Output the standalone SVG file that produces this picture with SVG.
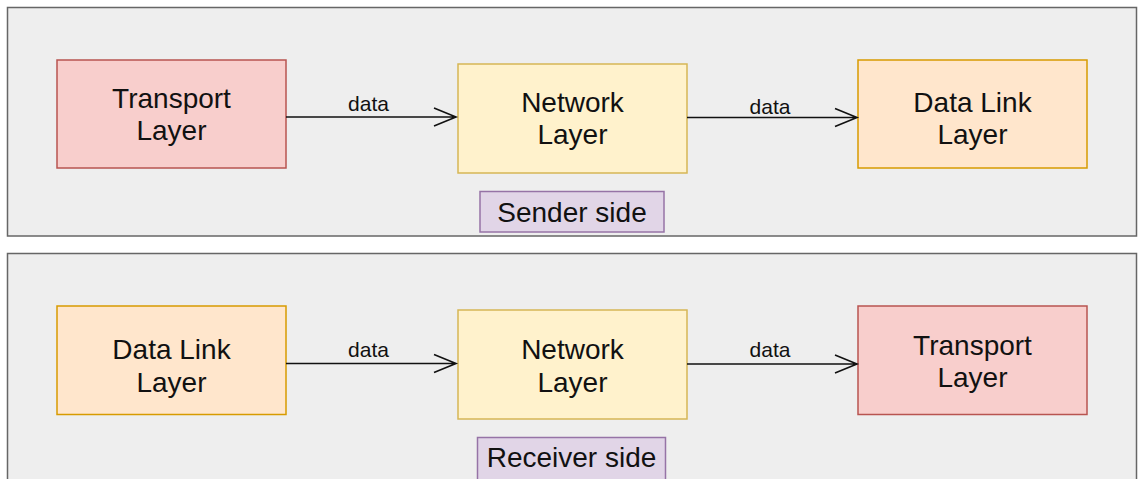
<svg xmlns="http://www.w3.org/2000/svg" width="1139" height="479" viewBox="0 0 1139 479">
<style>
.cont{fill:#eeeeee;stroke:#666666;stroke-width:1.5}
.tr{fill:#f8cecc;stroke:#b85450;stroke-width:1.5}
.nw{fill:#fff2cc;stroke:#d6b656;stroke-width:1.5}
.dl{fill:#ffe6cc;stroke:#d79b00;stroke-width:1.5}
.lb{fill:#e1d5e7;stroke:#9673a6;stroke-width:1.5}
.t{font-family:"Liberation Sans",Arial,sans-serif;font-size:28px;fill:#111111;text-anchor:middle}
.e{font-family:"Liberation Sans",Arial,sans-serif;font-size:21px;fill:#111111;text-anchor:middle}
.c{stroke:#111111;stroke-width:1.6;fill:none}
</style>
<g id="sender-container"><rect class="cont" x="7.5" y="7.5" width="1129" height="228.5"/></g>
<g id="receiver-container"><rect class="cont" x="7.5" y="253.5" width="1129" height="240"/></g>
<g id="s-transport"><rect class="tr" x="57" y="60" width="229" height="108"/><text class="t" x="171.5" y="108">Transport</text><text class="t" x="171.5" y="140">Layer</text></g>
<g id="s-network"><rect class="nw" x="458" y="64" width="229" height="109"/><text class="t" x="572.5" y="112">Network</text><text class="t" x="572.5" y="144">Layer</text></g>
<g id="s-datalink"><rect class="dl" x="858" y="60" width="229" height="108"/><text class="t" x="972.5" y="112">Data Link</text><text class="t" x="972.5" y="144">Layer</text></g>
<g id="sender-label"><rect class="lb" x="480" y="191.5" width="184" height="40.5"/><text class="t" x="572" y="222">Sender side</text></g>
<g id="r-datalink"><rect class="dl" x="57" y="306" width="229" height="108.5"/><text class="t" x="171.5" y="359">Data Link</text><text class="t" x="171.5" y="391.5">Layer</text></g>
<g id="r-network"><rect class="nw" x="458" y="310" width="229" height="109"/><text class="t" x="572.5" y="359">Network</text><text class="t" x="572.5" y="391.5">Layer</text></g>
<g id="r-transport"><rect class="tr" x="858" y="306" width="229" height="108.5"/><text class="t" x="972.5" y="355">Transport</text><text class="t" x="972.5" y="387">Layer</text></g>
<g id="receiver-label"><rect class="lb" x="477.5" y="437.5" width="188" height="45"/><text class="t" x="571.5" y="467">Receiver side</text></g>
<g id="connectors">
<path class="c" d="M286 117H456M434 108L456 117L434 126"/>
<path class="c" d="M687 117.5H857M835 108.5L857 117.5L835 126.5"/>
<path class="c" d="M286 363.5H456M434 354.5L456 363.5L434 372.5"/>
<path class="c" d="M687 364H857M835 355L857 364L835 373"/>
<text class="e" x="368.5" y="110.5">data</text>
<text class="e" x="770" y="114">data</text>
<text class="e" x="368.5" y="356.5">data</text>
<text class="e" x="770" y="356.5">data</text>
</g>
</svg>
